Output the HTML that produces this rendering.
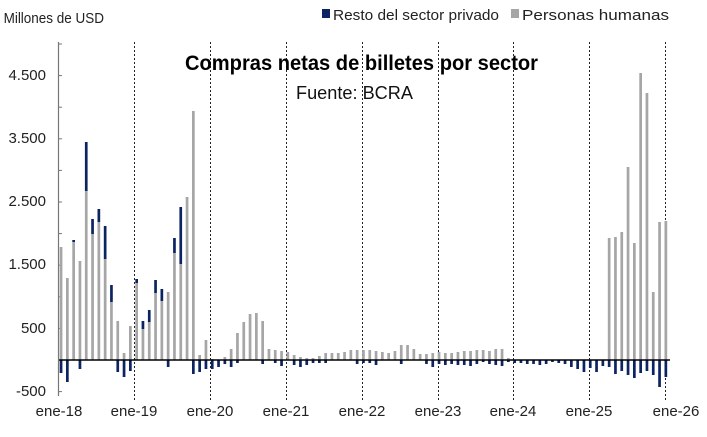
<!DOCTYPE html>
<html><head><meta charset="utf-8"><style>
body{margin:0;background:#fff;width:707px;height:432px;overflow:hidden;font-family:"Liberation Sans",sans-serif}
</style></head><body>
<svg id="s" width="707" height="432" xmlns="http://www.w3.org/2000/svg" font-family="Liberation Sans, sans-serif">
<rect width="707" height="432" fill="#fff"/>
<text x="4" y="23" font-size="15" fill="#222" transform="scale(0.9,1)">Millones de USD</text>
<rect x="322" y="9" width="8" height="9" fill="#0c2461"/>
<text x="333" y="20" font-size="15" fill="#222" textLength="166" lengthAdjust="spacingAndGlyphs">Resto del sector privado</text>
<rect x="511" y="9" width="8" height="9" fill="#a6a6a6"/>
<text x="522" y="20" font-size="15" fill="#222" textLength="147" lengthAdjust="spacingAndGlyphs">Personas humanas</text>
<g id="grid"></g>
<g id="bars"></g>
<line x1="58" y1="360" x2="670" y2="360" stroke="#000" stroke-width="1.5"/>
<line x1="58.5" y1="42" x2="58.5" y2="396" stroke="#777" stroke-width="1.2"/>
<g font-size="15" fill="#222" text-anchor="end">
<text x="46" y="80">4.500</text><text x="46" y="143">3.500</text><text x="46" y="206">2.500</text>
<text x="46" y="269">1.500</text><text x="46" y="333">500</text><text x="46" y="396">-500</text>
</g>
<g font-size="15" fill="#222" text-anchor="middle" id="xl"></g>
<text x="185" y="70" font-size="21" font-weight="bold" fill="#000" textLength="353" lengthAdjust="spacingAndGlyphs">Compras netas de billetes por sector</text>
<text x="296" y="99" font-size="18" fill="#111" textLength="117" lengthAdjust="spacingAndGlyphs">Fuente: BCRA</text>
</svg>
<script>
var NS="http://www.w3.org/2000/svg";
function el(p,t,a){var e=document.createElementNS(NS,t);for(var k in a)e.setAttribute(k,a[k]);document.getElementById(p).appendChild(e);return e;}
// ticks
for(var v=-500;v<=5000;v+=500){var y=360-v*0.0632;if(y<42)continue;el("grid","line",{x1:58,x2:62,y1:y,y2:y,stroke:"#777","stroke-width":1});}
var lines=[134,210,286,362,438,513,589,665];
lines.forEach(function(x){el("grid","line",{x1:x+0.5,x2:x+0.5,y1:42,y2:400,stroke:"#222","stroke-width":1,"stroke-dasharray":"2,2"});});
var labs=["ene-18","ene-19","ene-20","ene-21","ene-22","ene-23","ene-24","ene-25","ene-26"];
var lx=[59,134,210,286,362,438,513,589,676];
labs.forEach(function(t,i){var e=el("xl","text",{x:lx[i],y:416});e.textContent=t;});
// g, b, n
var d=[[113,0,13],[82,0,22],[118,2,0],[99,0,9],[169,49,0],[126,15,0],[138,13,0],[101,33,0],[58,17,0],[39,0,12],[7,0,17],[34,0,11],
[77,4,0],[31,8,0],[38,12,0],[67,13,0],[59,12,0],[68,0,7],[107,15,0],[96,57,0],[163,0,0],[249,0,14],[5,0,12],[20,0,9],
[1,0,9],[0,0,7],[3,0,4],[11,0,7],[27,0,3],[38,0,0],[46,0,0],[47,0,0],[39,0,4],[11,0,0],[10,0,3],[9,0,6],
[8,0,0],[5,0,5],[3,0,7],[2,0,5],[2,0,3],[4,0,3],[7,0,3],[7,0,0],[7,0,0],[8,0,0],[10,0,0],[10,0,4],
[10,0,3],[10,0,3],[9,0,5],[8,0,0],[7,0,0],[9,0,0],[15,0,4],[15,0,0],[11,0,0],[6,0,0],[6,0,4],[7,0,7],
[8,0,4],[7,0,5],[7,0,4],[8,0,5],[9,0,5],[9,0,6],[10,0,4],[10,0,2],[9,0,4],[11,0,5],[11,0,6],[2,0,2],
[0,0,3],[0,0,3],[0,0,4],[0,0,4],[0,0,5],[0,0,4],[0,0,2],[0,0,3],[0,0,4],[0,0,7],[0,0,9],[0,0,12],
[0,0,8],[0,0,12],[0,0,6],[122,0,7],[123,0,14],[128,0,11],[193,0,15],[117,0,18],[287,0,13],[267,0,11],[68,0,15],[138,0,27],[139,0,17]];
d.forEach(function(r,i){var x=61+i*6.3-1.3;
 if(r[0]>0)el("bars","rect",{x:x,y:360-r[0],width:2.7,height:r[0],fill:"#a6a6a6"});
 if(r[1]>0)el("bars","rect",{x:x,y:360-r[0]-r[1],width:2.7,height:r[1],fill:"#0c2461"});
 if(r[2]>0)el("bars","rect",{x:x,y:360,width:2.7,height:r[2],fill:"#0c2461"});
});
</script>
</body></html>
